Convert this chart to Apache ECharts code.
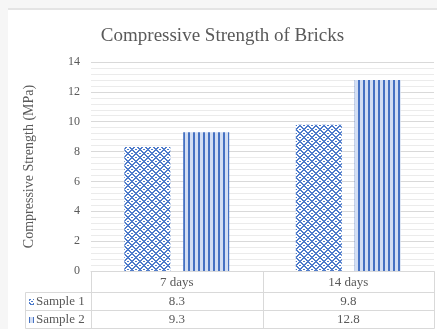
<!DOCTYPE html>
<html>
<head>
<meta charset="utf-8">
<script src="https://cdn.jsdelivr.net/npm/echarts@6/dist/echarts.min.js"></script>
<style>
  html, body { margin: 0; padding: 0; background: #f6f6f6; width: 437px; height: 329px; overflow: hidden; }
  #chart { position: absolute; left: 8px; top: 8px; width: 429px; height: 319px; border-top: 2px solid #e4e4e4; background: #ffffff; }
</style>
</head>
<body>
<div id="chart"></div>
<script>
// Chart data
const categories = ['7 days', '14 days'];
const seriesNames = ['Sample 1', 'Sample 2'];
const sample1 = [8.3, 9.8];
const sample2 = [9.3, 12.8];
const yMin = 0, yMax = 14, yStep = 2;

const FONT = '"Liberation Serif", "Times New Roman", serif';
const TEXT = '#595959';
const LINE = '#d9d9d9';

// Fill textures: a woven blue/white "divot" texture and vertical stripes
function weaveTile() {
  const rows = [
    '11000011',
    '01100110',
    '00111100',
    '10011001',
    '00111100',
    '01100110',
    '11000011',
    '10011001'
  ];
  const c = document.createElement('canvas');
  c.width = 8; c.height = 8;
  const ctx = c.getContext('2d');
  ctx.fillStyle = '#ffffff';
  ctx.fillRect(0, 0, 8, 8);
  ctx.fillStyle = '#4f7ccb';
  rows.forEach((r, y) => {
    for (let x = 0; x < 8; x++) if (r[x] === '1') ctx.fillRect(x, y, 1, 1);
  });
  return c;
}
function stripeTile() {
  const c = document.createElement('canvas');
  c.width = 5; c.height = 4;
  const ctx = c.getContext('2d');
  ctx.fillStyle = '#d3def3';
  ctx.fillRect(0, 0, 5, 4);
  ctx.fillStyle = '#4672c3';
  ctx.fillRect(0, 0, 2, 4);
  return c;
}
const fills = [
  { image: weaveTile(), repeat: 'repeat' },
  { image: stripeTile(), repeat: 'repeat' }
];
const values = [sample1, sample2];

// Plot area geometry inside the chart box
const W = 429, H = 319;
const gridLeft = 83, gridRight = 3, gridTop = 52, gridBottom = 58;

const chart = echarts.init(document.getElementById('chart'), null, { renderer: 'canvas' });

// Data table under the plot
function tableGraphics() {
  const x0 = 17, x1 = gridLeft, x3 = W - gridRight;
  const x2 = (x1 + x3) / 2;
  const yTop = H - gridBottom;
  const yRows = [yTop, yTop + 21, yTop + 39, H - 1];
  const els = [];
  const ln = (ax, ay, bx, by) => els.push({
    type: 'line', silent: true, z: 10,
    shape: { x1: Math.round(ax) + 0.5, y1: Math.round(ay) + 0.5, x2: Math.round(bx) + 0.5, y2: Math.round(by) + 0.5 },
    style: { stroke: LINE, lineWidth: 1 }
  });
  // horizontal rules
  ln(x1, yRows[0], x3, yRows[0]);
  for (let i = 1; i < yRows.length; i++) ln(x0, yRows[i], x3, yRows[i]);
  // vertical rules
  ln(x1, yRows[0], x1, yRows[3]);
  ln(x2, yRows[0], x2, yRows[3]);
  ln(x3, yRows[0], x3, yRows[3]);
  ln(x0, yRows[1], x0, yRows[3]);
  const colCenters = [(x1 + x2) / 2, (x2 + x3) / 2];
  seriesNames.forEach((name, s) => {
    const cy = (yRows[s + 1] + yRows[s + 2]) / 2 + 0.5;
    els.push({
      type: 'rect', silent: true, z: 10,
      shape: { x: x0 + 4, y: Math.round(cy) - 3, width: 5, height: 6 },
      style: { fill: fills[s] }
    });
    els.push({
      type: 'text', silent: true, z: 10, x: x0 + 11, y: cy,
      style: { text: name, fill: TEXT, font: '13px ' + FONT, verticalAlign: 'middle', align: 'left' }
    });
    values[s].forEach((v, c) => {
      els.push({
        type: 'text', silent: true, z: 10, x: colCenters[c], y: cy,
        style: { text: v.toFixed(1), fill: TEXT, font: '13px ' + FONT, verticalAlign: 'middle', align: 'center' }
      });
    });
  });
  return els;
}

chart.setOption({
  animation: false,
  backgroundColor: '#ffffff',
  title: {
    text: 'Compressive Strength of Bricks',
    left: 'center', top: 12,
    textStyle: { fontFamily: FONT, fontSize: 19, fontWeight: 'normal', color: TEXT }
  },
  grid: { left: gridLeft, right: gridRight, top: gridTop, bottom: gridBottom, containLabel: false },
  xAxis: {
    type: 'category',
    data: categories,
    axisLine: { show: true, lineStyle: { color: LINE } },
    axisTick: { show: false },
    axisLabel: { fontFamily: FONT, fontSize: 13, color: TEXT, margin: 12, verticalAlign: 'middle' }
  },
  yAxis: {
    type: 'value',
    min: yMin, max: yMax, interval: yStep,
    name: 'Compressive Strength (MPa)',
    nameLocation: 'middle',
    nameGap: 55,
    nameTextStyle: { fontFamily: FONT, fontSize: 14, color: TEXT },
    axisLine: { show: false },
    axisTick: { show: false },
    axisLabel: { fontFamily: FONT, fontSize: 12, color: TEXT, margin: 11 },
    splitLine: { lineStyle: { color: LINE, width: 1 } },
    minorTick: { show: false, splitNumber: 5 },
    minorSplitLine: { show: true, lineStyle: { color: '#ebebeb', width: 1 } }
  },
  series: seriesNames.map((name, s) => ({
    name: name,
    type: 'bar',
    data: values[s],
    barWidth: 46,
    barGap: '28%',
    itemStyle: { color: fills[s] }
  })),
  graphic: tableGraphics()
});
</script>
</body>
</html>
